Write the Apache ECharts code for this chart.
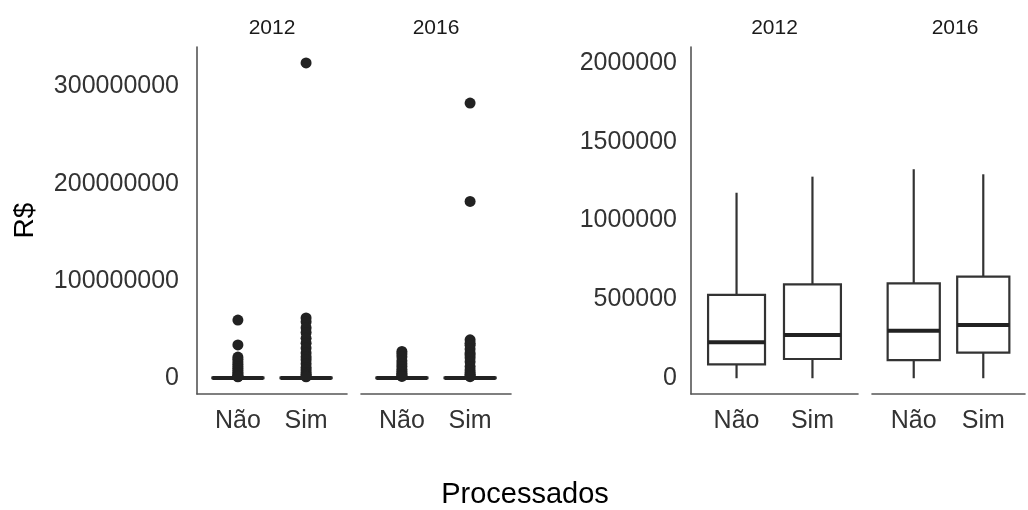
<!DOCTYPE html>
<html>
<head>
<meta charset="utf-8">
<script src="https://cdn.jsdelivr.net/npm/echarts@6/dist/echarts.min.js"></script>
<style>html,body{margin:0;padding:0;background:#fff}#c{width:1028px;height:510px}</style>
</head>
<body>
<div id="c"></div>
<script>
// ---- data ----
const categories = ['Não', 'Sim'];
const years = ['2012', '2016'];
// [min, Q1, median, Q3, max] per category (Não, Sim)
const boxStats2012 = [[0, 88000, 228000, 528000, 1176000], [0, 122000, 274000, 595000, 1278000]];
const boxStats2016 = [[0, 115000, 301000, 602000, 1325000], [0, 162000, 337000, 644000, 1293000]];
// outliers (R$)
const outliers2012Nao = [59800000, 34200000, 21800000, 19500000, 17000000, 14500000, 12000000, 10000000, 8000000, 6000000, 4500000, 3000000, 2000000, 1500000];
const outliers2012Sim = [324000000, 62000000, 58000000, 52000000, 47000000, 41000000, 36000000, 31000000, 26000000, 22000000, 19000000, 15000000, 11000000, 8500000, 6000000, 4000000, 2500000, 1500000];
const outliers2016Nao = [27600000, 25000000, 22000000, 18000000, 15000000, 12000000, 9000000, 7000000, 5000000, 3500000, 2500000, 1800000];
const outliers2016Sim = [282800000, 181700000, 39500000, 36000000, 34000000, 30000000, 26000000, 24000000, 21000000, 17000000, 12000000, 8500000, 6000000, 4000000, 2500000, 1600000];
const yTitle = 'R$';
const xTitle = 'Processados';

// ---- helpers ----
const FONT = 'Liberation Sans, Arial, Helvetica, sans-serif';
const grids = [
  {left: 197, top: 47, width: 150, height: 347},
  {left: 361, top: 47, width: 150, height: 347},
  {left: 691, top: 47, width: 167, height: 347},
  {left: 872, top: 47, width: 166, height: 347}
];
const leftRange = [-16200000, 340400000];
const rightRange = [-100000, 2100000];

function xAxisFor(i) {
  return {
    gridIndex: i, type: 'value', min: 0.4, max: 2.6, interval: 0.2, position: 'bottom',
    axisLine: {show: true, onZero: false, lineStyle: {color: '#555', width: 1.6}},
    axisTick: {show: false}, splitLine: {show: false},
    axisLabel: {
      margin: 15, fontSize: 25, color: '#333', fontFamily: FONT,
      formatter: function (v) { const k = Math.round(v); return (Math.abs(v - k) < 1e-6 && k >= 1 && k <= categories.length) ? categories[k - 1] : ''; }
    }
  };
}
function yAxisFor(i, range, showAxis, step, margin, name) {
  return {
    gridIndex: i, type: 'value', min: range[0], max: range[1], show: showAxis, position: 'left',
    name: name || '', nameLocation: 'middle', nameGap: 158, nameRotate: 90,
    nameTextStyle: {fontSize: 28, color: '#000', fontFamily: FONT},
    axisLine: {show: true, onZero: false, lineStyle: {color: '#555', width: 1.6}},
    axisTick: {show: false}, splitLine: {show: false},
    axisLabel: {
      margin: margin, fontSize: 25, color: '#333', fontFamily: FONT,
      showMinLabel: false, showMaxLabel: false,
      formatter: function (v) { const r = Math.round(v); return (r >= 0 && r % step === 0) ? String(r) : ''; }
    }
  };
}
function boxRender(params, api) {
  const x = api.value(0);
  const pMin = api.coord([x, api.value(1)]);
  const pQ1 = api.coord([x, api.value(2)]);
  const pMed = api.coord([x, api.value(3)]);
  const pQ3 = api.coord([x, api.value(4)]);
  const pMax = api.coord([x, api.value(5)]);
  const half = api.size([0.75, 0])[0] / 2;
  const cx = pMed[0];
  const stroke = '#333';
  return {
    type: 'group',
    children: [
      {type: 'line', shape: {x1: cx, y1: pQ3[1], x2: cx, y2: pMax[1]}, style: {stroke: stroke, lineWidth: 2.2}},
      {type: 'line', shape: {x1: cx, y1: pQ1[1], x2: cx, y2: pMin[1]}, style: {stroke: stroke, lineWidth: 2.2}},
      {type: 'rect', shape: {x: cx - half, y: pQ3[1], width: half * 2, height: pQ1[1] - pQ3[1]}, style: {fill: '#fff', stroke: stroke, lineWidth: 2.2}},
      {type: 'line', shape: {x1: cx - half, y1: pMed[1], x2: cx + half, y2: pMed[1]}, style: {stroke: '#222', lineWidth: 4}}
    ]
  };
}
function boxData(stats) { return stats.map(function (s, k) { return [k + 1].concat(s); }); }
function outData(lists) {
  const out = [];
  lists.forEach(function (l, k) { l.forEach(function (v) { out.push([k + 1, v]); }); });
  return out;
}
function boxSeries(i, stats) {
  return {type: 'custom', xAxisIndex: i, yAxisIndex: i, renderItem: boxRender, data: boxData(stats),
    encode: {x: 0, y: [1, 2, 3, 4, 5]}, silent: true, clip: false, z: 2};
}
function outSeries(i, lists) {
  return {type: 'scatter', xAxisIndex: i, yAxisIndex: i, data: outData(lists), symbolSize: 11,
    itemStyle: {color: '#222', opacity: 1}, silent: true, z: 3};
}

const stripCenters = grids.map(function (g) { return g.left + g.width / 2; });
const graphics = stripCenters.map(function (cx, i) {
  return {type: 'text', x: cx, y: 28, style: {text: years[i % 2], font: '21px ' + FONT, fill: '#1a1a1a', align: 'center', verticalAlign: 'middle', textAlign: 'center', textVerticalAlign: 'middle'}};
});
graphics.push({type: 'text', x: 525, y: 495, style: {text: xTitle, font: '29px ' + FONT, fill: '#000', align: 'center', verticalAlign: 'middle', textAlign: 'center', textVerticalAlign: 'middle'}});

const option = {
  animation: false,
  backgroundColor: '#fff',
  grid: grids,
  xAxis: [xAxisFor(0), xAxisFor(1), xAxisFor(2), xAxisFor(3)],
  yAxis: [
    yAxisFor(0, leftRange, true, 100000000, 18, yTitle),
    yAxisFor(1, leftRange, false, 100000000, 18),
    yAxisFor(2, rightRange, true, 500000, 14),
    yAxisFor(3, rightRange, false, 500000, 14)
  ],
  series: [
    boxSeries(0, boxStats2012), outSeries(0, [outliers2012Nao, outliers2012Sim]),
    boxSeries(1, boxStats2016), outSeries(1, [outliers2016Nao, outliers2016Sim]),
    boxSeries(2, boxStats2012),
    boxSeries(3, boxStats2016)
  ],
  graphic: graphics
};
const chart = echarts.init(document.getElementById('c'), null, {renderer: 'canvas'});
chart.setOption(option);
</script>
</body>
</html>
